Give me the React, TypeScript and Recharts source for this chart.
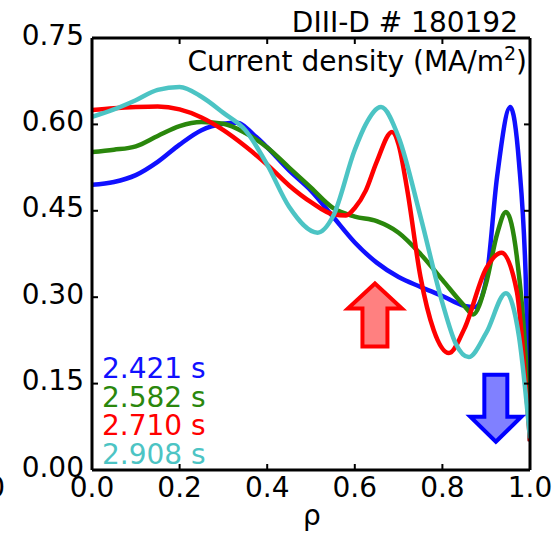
import React from "react";
import { LineChart, Line, XAxis, YAxis, ReferenceLine, ReferenceDot } from "recharts";

// rho grid + current density (MA/m^2), one pair per time slice
const RHO_2421 = [0, 0.05, 0.1, 0.15, 0.2, 0.25, 0.3, 0.33, 0.375, 0.4, 0.45, 0.5, 0.55, 0.6, 0.65, 0.7, 0.75, 0.8, 0.85, 0.875, 0.9, 0.925, 0.955, 0.975, 0.99, 1.0];
const J_2421 = [0.495, 0.5, 0.512, 0.535, 0.565, 0.59, 0.601, 0.603, 0.578, 0.56, 0.52, 0.485, 0.44, 0.395, 0.36, 0.335, 0.318, 0.302, 0.285, 0.283, 0.33, 0.51, 0.63, 0.533, 0.34, 0.05];

const RHO_2582 = [0, 0.05, 0.1, 0.15, 0.2, 0.25, 0.3, 0.35, 0.4, 0.45, 0.5, 0.55, 0.6, 0.65, 0.7, 0.75, 0.8, 0.85, 0.87, 0.9, 0.925, 0.945, 0.97, 0.99, 1.0];
const J_2582 = [0.552, 0.556, 0.562, 0.58, 0.597, 0.604, 0.601, 0.585, 0.56, 0.525, 0.49, 0.455, 0.44, 0.432, 0.412, 0.375, 0.33, 0.285, 0.27, 0.325, 0.41, 0.448, 0.37, 0.2, 0.05];

const RHO_2710 = [0, 0.05, 0.1, 0.15, 0.2, 0.25, 0.3, 0.35, 0.4, 0.45, 0.5, 0.55, 0.58, 0.6, 0.625, 0.65, 0.685, 0.7, 0.72, 0.75, 0.78, 0.815, 0.85, 0.9, 0.935, 0.97, 0.99, 1.0];
const J_2710 = [0.625, 0.628, 0.63, 0.631, 0.626, 0.612, 0.59, 0.562, 0.53, 0.494, 0.465, 0.444, 0.442, 0.455, 0.485, 0.535, 0.587, 0.565, 0.485, 0.335, 0.243, 0.203, 0.245, 0.35, 0.377, 0.31, 0.15, 0.05];

const RHO_2908 = [0, 0.05, 0.1, 0.15, 0.2, 0.25, 0.3, 0.35, 0.4, 0.45, 0.515, 0.55, 0.6, 0.625, 0.66, 0.7, 0.75, 0.8, 0.83, 0.86, 0.9, 0.945, 0.975, 1.0];
const J_2908 = [0.613, 0.626, 0.642, 0.66, 0.665, 0.648, 0.62, 0.59, 0.53, 0.457, 0.412, 0.44, 0.556, 0.6, 0.63, 0.578, 0.44, 0.29, 0.22, 0.196, 0.238, 0.307, 0.231, 0.055];

const X_TICKS = [0, 0.2, 0.4, 0.6, 0.8, 1.0];
const Y_TICKS = [0, 0.15, 0.3, 0.45, 0.6, 0.75];

const TIMES = ["2.421 s", "2.582 s", "2.710 s", "2.908 s"];
const COLORS = ["#1010ff", "#2a870c", "#ff0000", "#4cc4c4"];

const FONT = "DejaVu Sans, sans-serif";
const FS = 28;

// plot box (from margins below)
const LEFT = 92;
const RIGHT = 530;
const TOP = 38;
const BOTTOM = 470;

const zip = (xs: number[], ys: number[]) => xs.map((rho, i) => ({ rho, j: ys[i] }));
const SERIES = [
  zip(RHO_2421, J_2421),
  zip(RHO_2582, J_2582),
  zip(RHO_2710, J_2710),
  zip(RHO_2908, J_2908),
];

function XTick({ x, y, payload }: any) {
  return (
    <g>
      <line x1={x} x2={x} y1={y} y2={y - 6} stroke="#000" strokeWidth={2} />
      <line x1={x} x2={x} y1={TOP} y2={TOP + 6} stroke="#000" strokeWidth={2} />
      <text x={x} y={y + 17} textAnchor="middle" dominantBaseline="central" fontFamily={FONT} fontSize={FS} fill="#000">
        {payload.value.toFixed(1)}
      </text>
    </g>
  );
}

function YTick({ x, y, payload }: any) {
  return (
    <g>
      <line x1={x} x2={x + 6} y1={y} y2={y} stroke="#000" strokeWidth={2} />
      <line x1={RIGHT} x2={RIGHT - 6} y1={y} y2={y} stroke="#000" strokeWidth={2} />
      <text x={x - 8} y={y - 3} textAnchor="end" dominantBaseline="central" fontFamily={FONT} fontSize={FS} fill="#000">
        {payload.value.toFixed(2)}
      </text>
    </g>
  );
}

function UpArrow({ cx, cy }: any) {
  const d = `M ${cx} ${cy - 31} L ${cx + 27} ${cy - 6} L ${cx + 12.5} ${cy - 6} L ${cx + 12.5} ${cy + 32} L ${cx - 12.5} ${cy + 32} L ${cx - 12.5} ${cy - 6} L ${cx - 27} ${cy - 6} Z`;
  return <path d={d} fill="#ff8080" stroke="#ff0000" strokeWidth={4} strokeLinejoin="miter" />;
}

function DownArrow({ cx, cy }: any) {
  const d = `M ${cx} ${cy + 34} L ${cx + 25.5} ${cy + 9} L ${cx + 11.5} ${cy + 9} L ${cx + 11.5} ${cy - 33} L ${cx - 11.5} ${cy - 33} L ${cx - 11.5} ${cy + 9} L ${cx - 25.5} ${cy + 9} Z`;
  return <path d={d} fill="#8080ff" stroke="#0000ff" strokeWidth={4} strokeLinejoin="miter" />;
}

export default function App() {
  return (
    <div style={{ position: "absolute", left: 0, top: 0, width: 558, height: 539, background: "#fff" }}>
      <LineChart width={558} height={539} margin={{ top: TOP, right: 558 - RIGHT, bottom: 0, left: 0 }}>
        <XAxis
          dataKey="rho"
          type="number"
          domain={[0, 1]}
          ticks={X_TICKS}
          interval={0}
          height={539 - BOTTOM}
          allowDataOverflow
          axisLine={{ stroke: "#000", strokeWidth: 3 }}
          tickLine={false}
          tickSize={0}
          tickMargin={0}
          tick={(p: any) => <XTick {...p} />}
        />
        <YAxis
          type="number"
          domain={[0, 0.75]}
          ticks={Y_TICKS}
          interval={0}
          width={LEFT}
          allowDataOverflow
          axisLine={{ stroke: "#000", strokeWidth: 3 }}
          tickLine={false}
          tickSize={0}
          tickMargin={0}
          tick={(p: any) => <YTick {...p} />}
        />

        {SERIES.map((data, i) => (
          <Line
            key={TIMES[i]}
            data={data}
            dataKey="j"
            type="monotone"
            stroke={COLORS[i]}
            strokeWidth={4.5}
            dot={false}
            isAnimationActive={false}
          />
        ))}

        {/* frame: top and right spines */}
        <ReferenceLine x={1} stroke="#000" strokeWidth={3} />
        <ReferenceLine y={0.75} stroke="#000" strokeWidth={3} />

        <ReferenceDot x={0.646} y={0.27} r={1} shape={(p: any) => <UpArrow {...p} />} />
        <ReferenceDot x={0.922} y={0.108} r={1} shape={(p: any) => <DownArrow {...p} />} />
      </LineChart>

      <svg width={558} height={539} style={{ position: "absolute", left: 0, top: 0, pointerEvents: "none" }}>
        <g fontFamily={FONT} fontSize={FS}>
          <text x={518} y={32} textAnchor="end" fill="#000">DIII-D # 180192</text>
          <text x={527} y={71} textAnchor="end" fill="#000">
            Current density (MA/m<tspan dy={-11} fontSize={19}>2</tspan><tspan dy={11}>)</tspan>
          </text>
          {TIMES.map((t, i) => (
            <text key={t} x={102} y={378 + i * 28.7} fill={COLORS[i]}>{t}</text>
          ))}
          <text x={312} y={525} textAnchor="middle" fill="#000">ρ</text>
          <text x={5} y={487} textAnchor="end" dominantBaseline="central" fill="#000">1.0</text>
        </g>
      </svg>
    </div>
  );
}
